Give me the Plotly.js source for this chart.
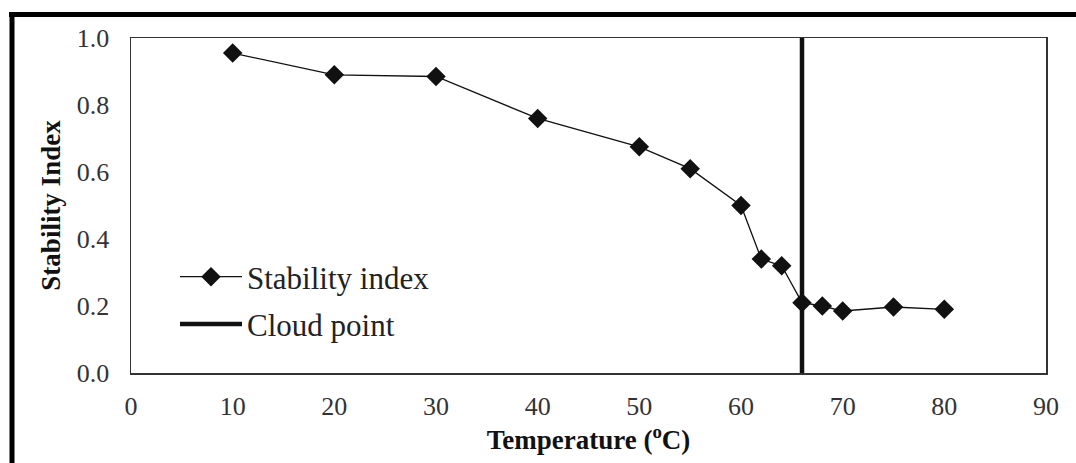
<!DOCTYPE html>
<html>
<head>
<meta charset="utf-8">
<script src="https://cdn.plot.ly/plotly-3.0.1.min.js"></script>
<style>html,body{margin:0;padding:0;background:#fff;}#chart{width:1076px;height:463px;}</style>
</head>
<body>
<div id="chart"></div>
<script>
// Data
const temperature = [10, 20, 30, 40, 50, 55, 60, 62, 64, 66, 68, 70, 75, 80];
const stabilityIndex = [0.955, 0.89, 0.885, 0.76, 0.675, 0.61, 0.50, 0.34, 0.32, 0.21, 0.20, 0.185, 0.197, 0.19];
const cloudPointX = [66, 66];
const cloudPointY = [0, 1];
const xTicks = [0, 10, 20, 30, 40, 50, 60, 70, 80, 90];
const yTicks = [0, 0.2, 0.4, 0.6, 0.8, 1.0];
const yTickText = ['0.0', '0.2', '0.4', '0.6', '0.8', '1.0'];

const serif = 'Liberation Serif, Times New Roman, serif';

const traces = [
  {
    x: temperature, y: stabilityIndex, type: 'scatter', mode: 'lines+markers',
    name: 'Stability index', legendgroup: 'a',
    line: {color: '#111', width: 1.3},
    marker: {symbol: 'diamond', size: 15, color: '#111'},
    cliponaxis: false
  },
  {
    x: cloudPointX, y: cloudPointY, type: 'scatter', mode: 'lines',
    name: 'Cloud point', legendgroup: 'b',
    line: {color: '#111', width: 4.5},
    cliponaxis: false
  }
];

// frame lines of the scanned figure (paper coords)
const L = 131, R = 1046, T = 38, B = 373;
const px = v => (v - L) / (R - L);
const py = v => (B - v) / (B - T);

const layout = {
  width: 1076, height: 463,
  margin: {l: L, r: 1076 - R, t: T, b: 463 - B},
  paper_bgcolor: '#fff', plot_bgcolor: '#fff',
  font: {family: serif, color: '#222', size: 26},
  showlegend: true,
  legend: {
    x: px(175), y: py(250), xanchor: 'left', yanchor: 'top',
    bgcolor: 'rgba(0,0,0,0)', borderwidth: 0,
    font: {family: serif, size: 31, color: '#222'},
    itemwidth: 62, tracegroupgap: 4
  },
  xaxis: {
    range: [0, 90], tickvals: xTicks, ticktext: xTicks.map(String),
    showgrid: false, zeroline: false, showline: true, mirror: true,
    linecolor: '#333', linewidth: 1.5, ticks: '',
    tickfont: {family: serif, size: 26, color: '#333'},
    ticklabelstandoff: 9,
    title: {text: '<b>Temperature (<sup>o</sup>C)</b>', font: {family: serif, size: 27, color: '#111'}, standoff: 0}
  },
  yaxis: {
    range: [0, 1], tickvals: yTicks, ticktext: yTickText,
    showgrid: false, zeroline: false, showline: true, mirror: true,
    linecolor: '#333', linewidth: 1.5, ticks: '',
    tickfont: {family: serif, size: 26, color: '#333'},
    ticklabelstandoff: 15,
    title: {text: '<b>Stability Index</b>', font: {family: serif, size: 27, color: '#111'}, standoff: 8}
  },
  shapes: [
    {type: 'line', xref: 'paper', yref: 'paper', x0: px(9), x1: px(1080), y0: py(14.5), y1: py(14.5), line: {color: '#000', width: 5}},
    {type: 'line', xref: 'paper', yref: 'paper', x0: px(12), x1: px(12), y0: py(12), y1: py(470), line: {color: '#000', width: 5}}
  ]
};

Plotly.newPlot('chart', traces, layout, {staticPlot: true, displayModeBar: false});
</script>
</body>
</html>
